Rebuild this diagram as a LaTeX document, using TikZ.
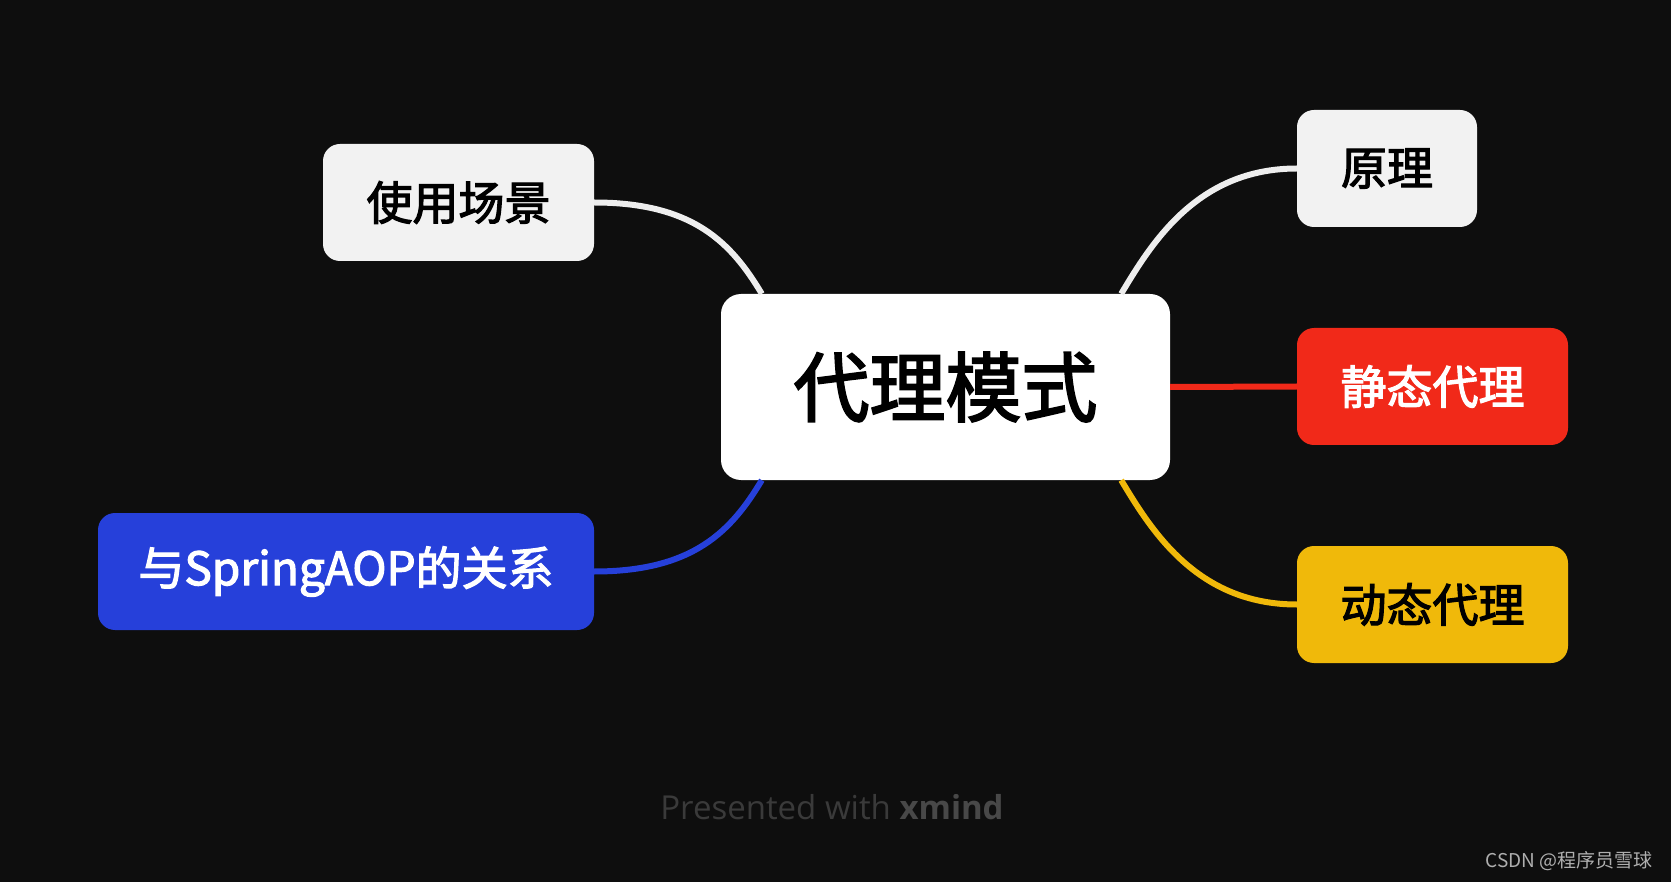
\documentclass[tikz,border=0pt]{standalone}
\usepackage{fontspec}
\setmainfont{Open Sans}
\newfontfamily\cjk[FakeBold=2.5]{Noto Sans CJK SC}
\newfontfamily\cjkthin{Noto Sans CJK SC}
\usetikzlibrary{calc}
\definecolor{bgdark}{RGB}{14,14,14}
\definecolor{boxlight}{RGB}{242,242,242}
\definecolor{linelight}{RGB}{238,238,238}
\definecolor{mapred}{RGB}{241,41,25}
\definecolor{mapyellow}{RGB}{240,185,10}
\definecolor{mapblue}{RGB}{38,64,218}
\definecolor{footgray}{RGB}{58,58,58}
\definecolor{footbold}{RGB}{72,72,72}
\definecolor{markgray}{RGB}{175,175,175}

\begin{document}
\begin{tikzpicture}[x=1pt, y=-1pt,
    topic/.style={rounded corners=17pt, minimum height=117pt, inner sep=0pt,
        font=\cjk\fontsize{46}{50}\selectfont},
    branch/.style={line width=6pt}]
    \fill[bgdark] (0,0) rectangle (1671,882);
    \useasboundingbox (0,0) rectangle (1671,882);

    \node[topic, fill=white, rounded corners=20pt, minimum width=449pt, minimum height=186pt,
        font=\cjk\fontsize{76}{80}\selectfont] (center) at (945.5,387) {代理模式};
    \node[topic, fill=boxlight, minimum width=271pt] (usage) at (458.5,202.5) {使用场景};
    \node[topic, fill=boxlight, minimum width=180pt] (principle) at (1387,168.5) {原理};
    \node[topic, fill=mapred, text=white, minimum width=271pt] (static) at (1432.5,386.5) {静态代理};
    \node[topic, fill=mapyellow, minimum width=271pt] (dynamic) at (1432.5,604.5) {动态代理};
    \node[topic, fill=mapblue, text=white, minimum width=496pt] (spring) at (346,571.5) {与SpringAOP的关系};

    \coordinate (cNW) at ($(center.north west)+(41,0)$);
    \coordinate (cNE) at ($(center.north east)+(-49,0)$);
    \coordinate (cSW) at ($(center.south west)+(41,0)$);
    \coordinate (cSE) at ($(center.south east)+(-49,0)$);

    \draw[branch, linelight] (usage.east) .. controls +(100,0) and +(-30,-50) .. (cNW);
    \draw[branch, linelight] (principle.west) .. controls +(-100,0) and +(30,-50) .. (cNE);
    \draw[branch, mapred] (center.east) -- (static.west);
    \draw[branch, mapyellow] (dynamic.west) .. controls +(-100,0) and +(30,50) .. (cSE);
    \draw[branch, mapblue] (spring.east) .. controls +(100,0) and +(-30,50) .. (cSW);

    \node[font=\fontsize{33}{40}\selectfont, text=footgray] (credit) at (832,807)
        {Presented with \textcolor{footbold}{\bfseries xmind}};
    \node[font=\cjkthin\fontsize{19}{22}\selectfont, text=markgray, anchor=east] (mark) at (1656,861) {CSDN @程序员雪球};
\end{tikzpicture}
\end{document}
